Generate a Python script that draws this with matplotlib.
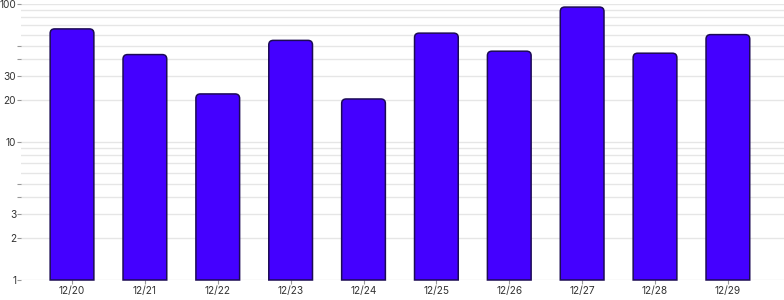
import matplotlib
matplotlib.use("Agg")
import matplotlib.pyplot as plt
import numpy as np
from matplotlib.path import Path
from matplotlib.patches import PathPatch
from matplotlib.transforms import IdentityTransform
from matplotlib.ticker import FixedLocator, FixedFormatter, NullLocator

dates = ["12/20", "12/21", "12/22", "12/23", "12/24",
         "12/25", "12/26", "12/27", "12/28", "12/29"]
counts = [65, 42, 21.3, 53.5, 19.5, 60.5, 44.5, 94, 43, 59]

ytick_vals = [1, 2, 3, 4, 5, 10, 20, 30, 40, 50, 100]
ytick_labels = ["1", "2", "3", "", "", "10", "20", "30", "", "", "100"]
grid_vals = [1, 2, 3, 4, 5, 6, 7, 8, 9, 10,
             20, 30, 40, 50, 60, 70, 80, 90, 100]

plt.rcParams['font.family'] = ['Inter', 'DejaVu Sans']

fig = plt.figure(figsize=(7.84, 3.0), dpi=100)
ax = fig.add_axes([21 / 784, 20 / 300, 763 / 784, 276 / 300])

x = np.arange(len(dates))
ax.set_yscale('log')
ax.set_ylim(1, 100)
ax.set_xlim(-0.7, 9.77)

for g in grid_vals:
    ax.axhline(g, color='#e6e6e6', lw=1, zorder=0)

bars = ax.bar(x, counts, width=0.6, bottom=1, color='#4400ff')

for s in ax.spines.values():
    s.set_visible(False)

ax.yaxis.set_major_locator(FixedLocator(ytick_vals))
ax.yaxis.set_major_formatter(FixedFormatter(ytick_labels))
ax.yaxis.set_minor_locator(NullLocator())
ax.set_xticks(x)
ax.set_xticklabels(dates)
ax.tick_params(axis='both', length=3, width=0.8, color='#999999',
               labelsize=7.3, labelcolor='#333333', pad=1)
ax.tick_params(axis='y', pad=0.5)

# rounded top corners, built in pixel space from each bar's extent
fig.canvas.draw()
r = 4.5
for b in bars:
    bb = b.get_window_extent()
    x0, y0, x1, y1 = bb.x0, bb.y0, bb.x1, bb.y1
    verts = [(x0, y0), (x0, y1 - r), (x0, y1), (x0 + r, y1),
             (x1 - r, y1), (x1, y1), (x1, y1 - r), (x1, y0), (x0, y0)]
    codes = [Path.MOVETO, Path.LINETO, Path.CURVE3, Path.CURVE3,
             Path.LINETO, Path.CURVE3, Path.CURVE3, Path.LINETO, Path.CLOSEPOLY]
    p = PathPatch(Path(verts, codes), facecolor='#4400ff', edgecolor='#1c0b55',
                  lw=1.1, transform=IdentityTransform(), zorder=3)
    fig.add_artist(p)
    b.set_visible(False)

fig.savefig("out.png", dpi=100)
